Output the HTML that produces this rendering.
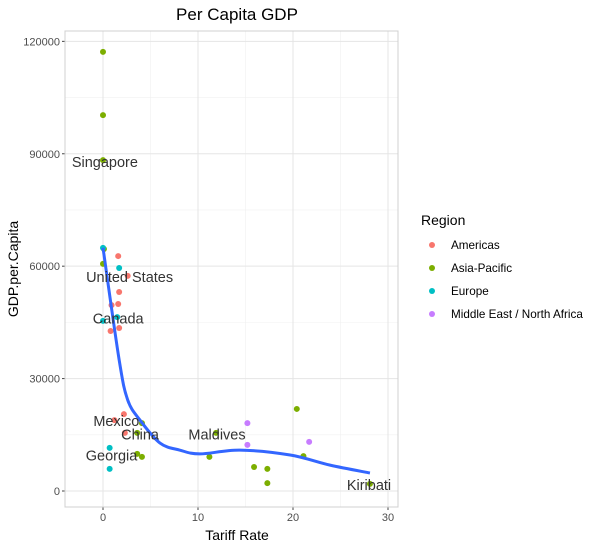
<!DOCTYPE html>
<html><head><meta charset="utf-8"><style>body{margin:0;background:#fff}svg{font-family:"Liberation Sans",sans-serif}</style></head>
<body>
<svg id="c" width="603" height="551"></svg>
<script>
const regions=["Americas","Asia-Pacific","Europe","Middle East / North Africa"];
const colors=["#F8766D","#7CAE00","#00BFC4","#C77CFF"];
const ptX=[1.6,2.6,1.7,1.6,0.9,0.8,1.7,2.2,1.2,2.3, 0,0,0,0.1,0,4.1,3.6,3.6,4.1,11.9,11.2,15.9,17.3,17.3,20.4,21.1,28.1, 0,1.7,1.5,0,0.7,0.7, 15.2,15.2,21.7];
const ptY=[62700,57400,53100,49900,49600,42700,43500,20500,18900,15500, 117200,100300,88300,64600,60600,18100,15500,9900,9100,15500,9100,6400,5900,2100,21900,9300,1900, 64900,59500,46400,45400,11500,5900, 18100,12300,13100];
const ptR=[0,0,0,0,0,0,0,0,0,0, 1,1,1,1,1,1,1,1,1,1,1,1,1,1,1,1,1, 2,2,2,2,2,2, 3,3,3];
const fitX=[0,1.7,2.6,3.9,6.0,8.1,10.2,14.4,19.7,23.9,28.1];
const fitY=[64900,35000,24300,18900,12800,10900,9900,10900,9600,6900,4800];
const labels=["Singapore","United States","Canada","Mexico","China","Maldives","Georgia","Kiribati"];
const labX=[0.2,2.8,1.6,1.4,3.9,12.0,0.9,28.0];
const labY=[87800,57100,46100,18700,15100,15100,9500,1600];
const xTicks=[0,10,20,30];
const yTicks=[0,30000,60000,90000,120000];
const yTickLabels=["0","30000","60000","90000","120000"];

const NS="http://www.w3.org/2000/svg",svg=document.getElementById("c");
const L=65,R=398,T=31,B=507;
const sx=v=>103+v*9.5, sy=v=>491-v*0.003747;
function mk(t,a,p){const e=document.createElementNS(NS,t);for(const k in a)e.setAttribute(k,a[k]);(p||svg).appendChild(e);return e;}
let e=mk("rect",{x:L,y:T,width:R-L,height:B-T,fill:"#fff",stroke:"none"});


for(const v of [-5,5,15,25]){if(sx(v)>L&&sx(v)<R){e=mk("line",{x1:sx(v),x2:sx(v),y1:T,y2:B,stroke:"#f0f0f0","stroke-width":0.6});}}
for(const v of [15000,45000,75000,105000]){e=mk("line",{x1:L,x2:R,y1:sy(v),y2:sy(v),stroke:"#f0f0f0","stroke-width":0.6});}
xTicks.forEach(v=>{
 e=mk("line",{x1:sx(v),x2:sx(v),y1:T,y2:B,stroke:"#e5e5e5","stroke-width":1});
 e=mk("line",{x1:sx(v),x2:sx(v),y1:B,y2:B+3,stroke:"#444"});
 e=mk("text",{x:sx(v),y:B+14,"text-anchor":"middle","font-size":11,fill:"#4d4d4d"});e.textContent=v;
});
yTicks.forEach((v,i)=>{
 e=mk("line",{x1:L,x2:R,y1:sy(v),y2:sy(v),stroke:"#e5e5e5","stroke-width":1});
 e=mk("line",{x1:L-3,x2:L,y1:sy(v),y2:sy(v),stroke:"#444"});
 e=mk("text",{x:L-5,y:sy(v)+4,"text-anchor":"end","font-size":11,fill:"#4d4d4d"});e.textContent=yTickLabels[i];
});
e=mk("rect",{x:L,y:T,width:R-L,height:B-T,fill:"none",stroke:"#d0d0d0"});


ptX.forEach((x,i)=>{e=mk("circle",{cx:sx(x),cy:sy(ptY[i]),r:3,fill:colors[ptR[i]]});});
const P=fitX.map((x,i)=>[sx(x),sy(fitY[i])]);
let d="M"+P[0][0]+","+P[0][1];
for(let i=0;i<P.length-1;i++){const p0=P[Math.max(0,i-1)],p1=P[i],p2=P[i+1],p3=P[Math.min(P.length-1,i+2)];
 d+=` C${p1[0]+(p2[0]-p0[0])/6},${p1[1]+(p2[1]-p0[1])/6} ${p2[0]-(p3[0]-p1[0])/6},${p2[1]-(p3[1]-p1[1])/6} ${p2[0]},${p2[1]}`;}
e=mk("path",{d:d,fill:"none",stroke:"#3366FF","stroke-width":3});


labels.forEach((t,i)=>{e=mk("text",{x:sx(labX[i]),y:sy(labY[i])+5,"text-anchor":"middle","font-size":14.5,fill:"#333"});e.textContent=t;});
e=mk("text",{x:237,y:20,"text-anchor":"middle","font-size":17,fill:"#000"});e.textContent="Per Capita GDP";


e=mk("text",{x:237,y:540,"text-anchor":"middle","font-size":14,fill:"#000"});e.textContent="Tariff Rate";


e=mk("text",{x:0,y:0,"text-anchor":"middle","font-size":14,fill:"#000",transform:"translate(18,269) rotate(-90)"});e.textContent="GDP.per.Capita";


e=mk("text",{x:421,y:225,"font-size":14,fill:"#000"});e.textContent="Region";


regions.forEach((r,i)=>{const y=245+i*23;
 e=mk("circle",{cx:432,cy:y,r:3,fill:colors[i]});
 e=mk("text",{x:451,y:y+4,"font-size":11.7,fill:"#000"});e.textContent=r;
});
</script>
</body></html>
